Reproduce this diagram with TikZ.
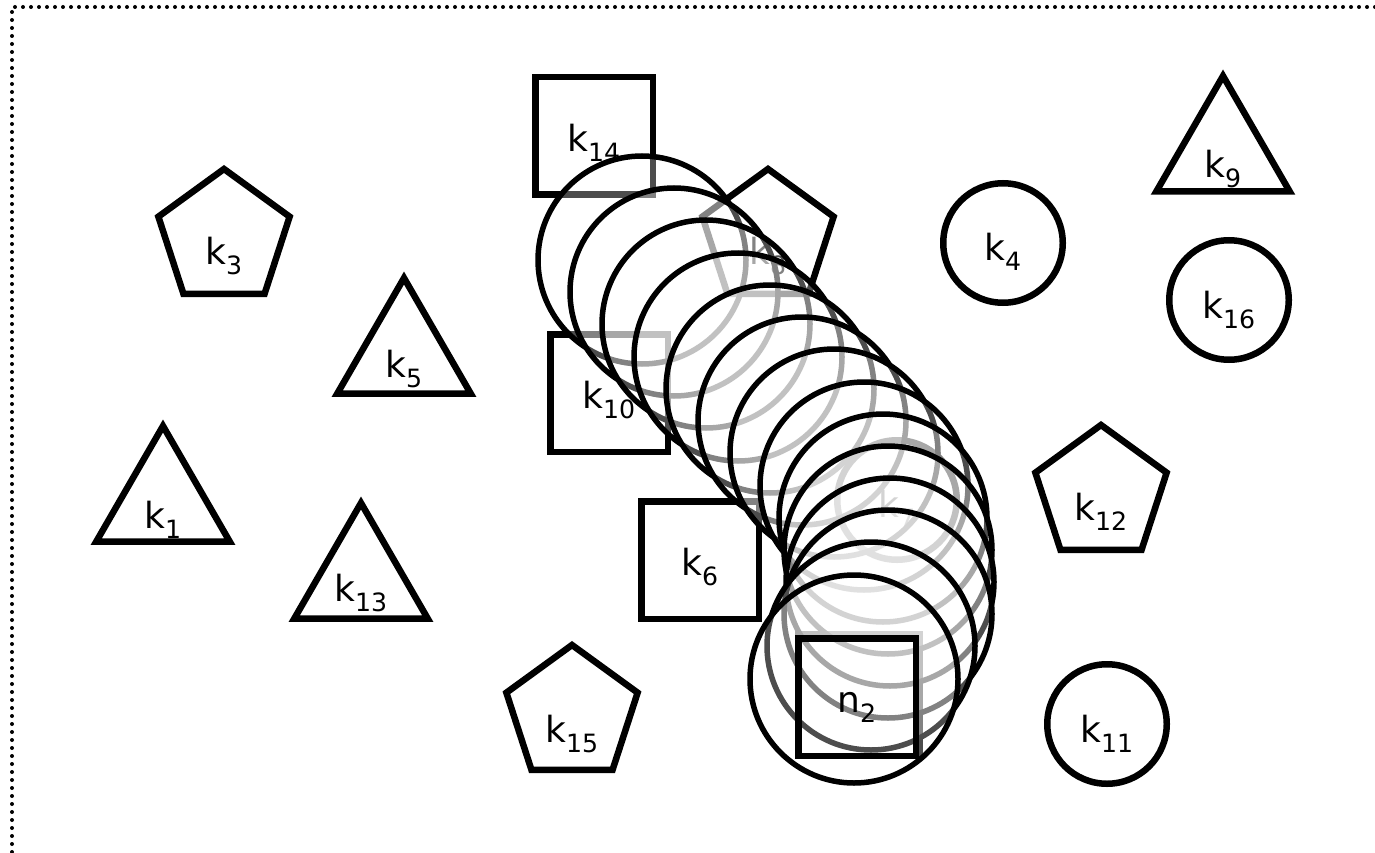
\documentclass[tikz,border=0pt]{standalone}
\usepackage{fontspec}
\setmainfont{DejaVu Sans}
\usetikzlibrary{shapes.geometric}
\begin{document}
\begin{tikzpicture}[x=1pt,y=-1pt,
  every node/.style={inner sep=0pt},
  shp/.style={draw, line width=6.5pt},
  sq/.style={shp, rectangle, minimum size=117.5pt},
  pent/.style={shp, regular polygon, regular polygon sides=5, minimum size=138pt},
  tri/.style={shp, regular polygon, regular polygon sides=3, minimum size=154pt},
  circ/.style={shp, circle, minimum size=119.5pt},
  ghost/.style={draw, line width=5.5pt, circle, minimum size=208pt, fill=white, fill opacity=0.3},
  txt/.style={font=\fontsize{36}{43}\selectfont, text height=31pt, text depth=0pt},
  frame/.style={line width=4pt, line cap=round, dash pattern=on 0pt off 8pt}
]
\useasboundingbox (0,0) rectangle (1375,853);
\clip (0,0) rectangle (1375,853);
\coordinate (f1) at (12,7);
\coordinate (f2) at (1400,7);
\coordinate (f3) at (12,900);
\draw[frame] (f3) -- (f1) -- (f2);

% background nodes
\node[pent] (k3) at (224,238) {};
\node[txt] (k3t) at ([yshift=-11pt]k3.center) {k\textsubscript{3}};
\node[pent] (k8) at (768,238) {};
\node[txt] (k8t) at ([yshift=-11pt]k8.center) {k\textsubscript{8}};
\node[pent] (k12) at (1101,494) {};
\node[txt] (k12t) at ([yshift=-11pt]k12.center) {k\textsubscript{12}};
\node[pent] (k15) at (572,714) {};
\node[txt] (k15t) at ([yshift=-13pt]k15.center) {k\textsubscript{15}};
\node[tri] (k9) at (1223,153) {};
\node[txt] (k9t) at ([yshift=-9pt]k9.center) {k\textsubscript{9}};
\node[tri] (k5) at (404,355) {};
\node[txt] (k5t) at ([yshift=-7pt]k5.center) {k\textsubscript{5}};
\node[tri] (k1) at (163,503) {};
\node[txt] (k1t) at ([yshift=-10pt]k1.center) {k\textsubscript{1}};
\node[tri] (k13) at (361,580) {};
\node[txt] (k13t) at ([yshift=-6pt]k13.center) {k\textsubscript{13}};
\node[circ] (k4) at (1003,243) {};
\node[txt] (k4t) at ([yshift=-2pt]k4.center) {k\textsubscript{4}};
\node[circ] (k16) at (1229,300) {};
\node[txt] (k16t) at ([yshift=-3pt]k16.center) {k\textsubscript{16}};
\node[circ] (k11) at (1107,724) {};
\node[txt] (k11t) at ([yshift=-3pt]k11.center) {k\textsubscript{11}};
\node[circ] (k7) at (897,500) {};
\node[txt] (k7t) at ([yshift=-2pt]k7.center) {k\textsubscript{7}};
\node[sq] (k14) at (594,136) {};
\node[txt] (k14t) at (k14.center) {k\textsubscript{14}};
\node[sq] (k10) at (609,393) {};
\node[txt] (k10t) at (k10.center) {k\textsubscript{10}};
\node[sq] (k6) at (700,560) {};
\node[txt] (k6t) at (k6.center) {k\textsubscript{6}};
\node[sq, minimum size=121.5pt] (n2old) at (859,695) {};

% trail of circles
\node[ghost] (c1) at (642,260) {};
\node[ghost] (c2) at (674,292) {};
\node[ghost] (c3) at (706,324) {};
\node[ghost] (c4) at (738,357) {};
\node[ghost] (c5) at (770,389) {};
\node[ghost] (c6) at (802,421) {};
\node[ghost] (c7) at (834,453) {};
\node[ghost] (c8) at (864,486) {};
\node[ghost] (c9) at (883,518) {};
\node[ghost] (c10) at (888,550) {};
\node[ghost] (c11) at (890,582) {};
\node[ghost] (c12) at (888,614) {};
\node[ghost] (c13) at (871,646) {};
\node[ghost] (c14) at (854,679) {};

\node[sq] (n2) at (857,697) {};
\node[txt] (n2t) at (n2.center) {n\textsubscript{2}};
\end{tikzpicture}
\end{document}
